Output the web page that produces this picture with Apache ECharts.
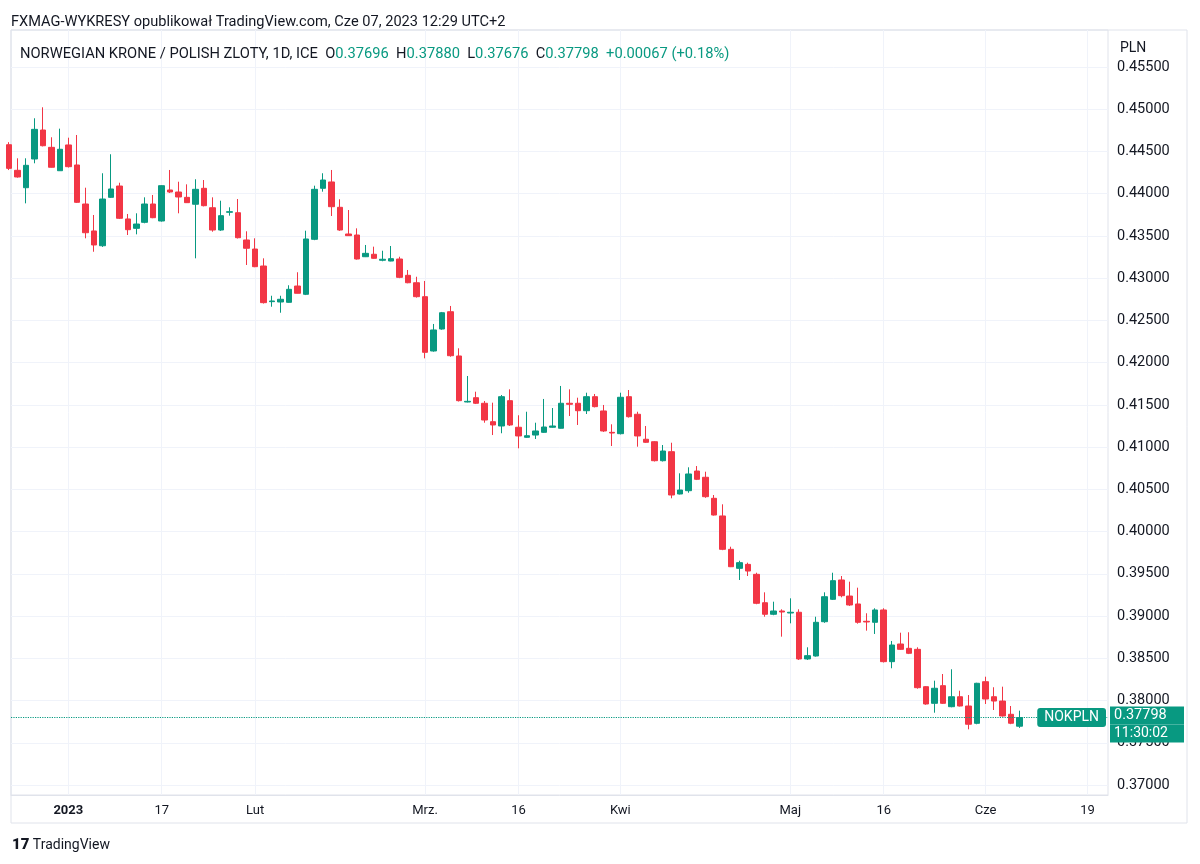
<!DOCTYPE html>
<html><head><meta charset="utf-8">
<script src="https://cdn.jsdelivr.net/npm/echarts@6/dist/echarts.min.js"></script>
<style>html,body{margin:0;padding:0;background:#ffffff}#c{width:1200px;height:864px}</style>
</head><body><div id="c"></div>
<script>
// trading-day index of the first candle (0 = 2 Jan 2023)
const firstIndex = -7;
const opens = [
 0.4458,0.44277,0.44071,0.44411,0.44754,0.44549,0.44272,
 0.44577,0.44340,0.43878,0.43559,0.43384,0.43957,0.44091,0.43701,0.43590,0.43661,
 0.43878,0.43677,0.44044,0.44020,0.43957,0.43875,0.44064,0.43834,0.43570,0.43780,
 0.43775,0.43452,0.43345,0.43144,0.42722,0.42718,0.42714,0.42907,0.42809,0.43460,
 0.44064,0.44139,0.43839,0.43523,0.43511,0.43254,0.43283,0.43212,0.43203,0.43227,
 0.43034,0.42946,0.42781,0.42138,0.42398,0.42603,0.42079,0.41534,0.41585,0.41519,
 0.41301,0.41250,0.41550,0.41235,0.41116,0.41143,0.41175,0.41235,0.41223,0.41519,
 0.41519,0.41431,0.41597,0.41428,0.41175,0.41159,0.41597,0.41389,0.41093,0.41064,
 0.40839,0.40946,0.40445,0.40484,0.40717,0.40643,0.40394,0.40185,0.39790,0.39565,
 0.39612,0.39494,0.39158,0.39021,0.39060,0.39036,0.39045,0.38492,0.38527,0.38933,
 0.39198,0.39427,0.39237,0.39143,0.38938,0.38926,0.39072,0.38460,0.38669,0.38618,
 0.38606,0.38164,0.37967,0.38176,0.37927,0.38045,0.37935,0.37730,0.38223,0.38045,
 0.37994,0.37837,0.37696
];
const closes = [
 0.4430,0.44198,0.44336,0.44762,0.44568,0.44313,0.44526,
 0.44320,0.43898,0.43538,0.43393,0.43937,0.44056,0.43709,0.43574,0.43641,0.43878,
 0.43716,0.44095,0.44020,0.43961,0.43894,0.44052,0.43858,0.43570,0.43740,0.43787,
 0.43479,0.43354,0.43136,0.42710,0.42730,0.42750,0.42868,0.42821,0.43464,0.44052,
 0.44162,0.43846,0.43570,0.43503,0.43227,0.43294,0.43235,0.43224,0.43231,0.43010,
 0.42946,0.42781,0.42122,0.42387,0.42591,0.42082,0.41550,0.41542,0.41519,0.41321,
 0.41262,0.41597,0.41262,0.41132,0.41135,0.41191,0.41238,0.41250,0.41519,0.41507,
 0.41431,0.41597,0.41479,0.41191,0.41167,0.41590,0.41360,0.41132,0.41057,0.40839,
 0.40954,0.40433,0.40492,0.40682,0.40619,0.40413,0.40196,0.39790,0.39584,0.39632,
 0.39533,0.39151,0.39021,0.39060,0.39048,0.39045,0.38492,0.38531,0.38926,0.39229,
 0.39419,0.39241,0.39131,0.38926,0.38930,0.39072,0.38460,0.38657,0.38606,0.38559,
 0.38152,0.37959,0.38145,0.37967,0.38045,0.37935,0.37719,0.38204,0.38018,0.37994,
 0.37817,0.37731,0.37798
];
const lows = [
 0.4428,0.4419,0.43886,0.44360,0.4456,0.4431,0.4427,
 0.4431,0.4389,0.43472,0.43313,0.4337,0.4395,0.4370,0.43511,0.43519,0.4365,
 0.4371,0.4367,0.44008,0.43768,0.4389,0.43235,0.4385,0.43550,0.4356,0.43740,
 0.4347,0.43156,0.4313,0.4270,0.42662,0.42591,0.4271,0.4282,0.4280,0.4345,
 0.44024,0.43736,0.4356,0.4350,0.4322,0.4325,0.4323,0.4320,0.4320,0.4300,
 0.4294,0.4277,0.42051,0.4213,0.4239,0.4207,0.4154,0.4153,0.4151,0.41289,
 0.41143,0.41164,0.4125,0.40986,0.4111,0.41096,0.4117,0.4123,0.4122,0.41368,
 0.41262,0.41392,0.4147,0.4118,0.41013,0.4115,0.4135,0.41005,0.4105,0.4083,
 0.4083,0.40394,0.4044,0.40460,0.4061,0.4040,0.4019,0.3978,0.3958,0.39427,
 0.39474,0.3914,0.38992,0.3901,0.38756,0.38914,0.3848,0.3848,0.3852,0.3892,
 0.3919,0.39222,0.3912,0.3891,0.38827,0.38788,0.3845,0.38382,0.3860,0.3855,
 0.3814,0.3795,0.37856,0.3796,0.3792,0.3793,0.37659,0.37719,0.37959,0.37888,
 0.3781,0.3772,0.37676
];
const highs = [
 0.4461,0.44419,0.44419,0.44893,0.45023,0.44668,0.44770,
 0.44663,0.44695,0.44071,0.43748,0.44242,0.44467,0.44130,0.43760,0.43768,0.43957,
 0.43985,0.4410,0.44281,0.44142,0.44111,0.44171,0.44162,0.43957,0.43917,0.43839,
 0.43937,0.43555,0.43472,0.43235,0.42792,0.42792,0.42916,0.43070,0.43562,0.44095,
 0.44242,0.44281,0.43934,0.43807,0.43590,0.43393,0.43373,0.43325,0.43381,0.43254,
 0.43097,0.43017,0.42967,0.42458,0.4260,0.42671,0.42170,0.41842,0.41656,0.41546,
 0.41526,0.41617,0.41684,0.41377,0.41419,0.41289,0.41570,0.41463,0.41724,0.41684,
 0.41585,0.41644,0.41629,0.41499,0.41270,0.41644,0.41676,0.41419,0.41250,0.4107,
 0.41025,0.41052,0.40690,0.40761,0.40776,0.40709,0.40433,0.40323,0.39821,0.39655,
 0.39632,0.39513,0.39281,0.39170,0.39080,0.39210,0.39080,0.38630,0.38992,0.39281,
 0.39513,0.39474,0.39407,0.39336,0.39033,0.39092,0.39092,0.38705,0.38803,0.38808,
 0.38630,0.3817,0.38235,0.38314,0.38370,0.38116,0.38065,0.3821,0.38282,0.38157,
 0.38164,0.37935,0.37880
];
const tickDays = [0, 11, 22, 42, 53, 65, 85, 96, 108, 120];
const tickLabels = ['2023', '17', 'Lut', 'Mrz.', '16', 'Kwi', 'Maj', '16', 'Cze', '19'];
const priceTicks = [0.370,0.375,0.380,0.385,0.390,0.395,0.400,0.405,0.410,0.415,0.420,0.425,0.430,0.435,0.440,0.445,0.450,0.455];
const lastPrice = 0.37798;
const lastTime = '11:30:02';
const symbolName = 'NOKPLN';
const currency = 'PLN';
const headerTitle = 'FXMAG-WYKRESY opublikował TradingView.com, Cze 07, 2023 12:29 UTC+2';
const instrument = 'NORWEGIAN KRONE / POLISH ZLOTY, 1D, ICE';
const ohlcLabels = ['O', 'H', 'L', 'C'];
const ohlcValues = ['0.37696', '0.37880', '0.37676', '0.37798'];
const changeText = '+0.00067 (+0.18%)';

const UP = '#089981', DOWN = '#F23645', TXT = '#131722', GRID = '#f0f3fa', BORDER = '#e0e3eb';
const FONT = 'Roboto, "Liberation Sans", sans-serif';

const candles = opens.map((o, i) => [firstIndex + i, o, closes[i], lows[i], highs[i]]);
const lastIdx = firstIndex + opens.length - 1;

let legendText = '{n|' + instrument + '}  ';
ohlcLabels.forEach((k, i) => { legendText += '{k|' + k + '}{v|' + ohlcValues[i] + '}  '; });
legendText += '{v|' + changeText + '}';

const chart = echarts.init(document.getElementById('c'), null, { renderer: 'canvas' });
chart.setOption({
  backgroundColor: '#ffffff',
  animation: false,
  textStyle: { fontFamily: FONT },
  title: [
    { text: headerTitle, left: 6, top: 10, padding: 5, textStyle: { fontSize: 14.6, fontWeight: 'normal', color: TXT, fontFamily: FONT } },
    { text: legendText, left: 15, top: 42, padding: 5, textStyle: { fontSize: 14.7, fontWeight: 'normal', color: TXT, fontFamily: FONT,
        rich: { n: { fontSize: 14.7, color: TXT }, k: { fontSize: 14.7, color: TXT }, v: { fontSize: 14.7, color: UP } } } },
    { text: currency, left: 1115, top: 36, padding: 5, textStyle: { fontSize: 14, fontWeight: 'normal', color: TXT, fontFamily: FONT } },
    { text: '{l|17} TradingView', left: 7, top: 833, padding: 5, textStyle: { fontSize: 14, fontWeight: 'normal', color: TXT, fontFamily: FONT,
        rich: { l: { fontSize: 15, fontWeight: 900, color: TXT } } } }
  ],
  grid: [
    { left: 11, right: 92, top: 30, bottom: 69, show: true, borderColor: BORDER, borderWidth: 1, backgroundColor: 'transparent' },
    { left: 11, right: 13, top: 30, bottom: 41, show: true, borderColor: BORDER, borderWidth: 1, backgroundColor: 'transparent' }
  ],
  xAxis: [{
    type: 'value', gridIndex: 0,
    min: (11 - 68.3) / 8.494, max: (1108 - 68.3) / 8.494,
    axisLine: { show: true, lineStyle: { color: BORDER } },
    axisTick: { show: false, customValues: tickDays },
    splitLine: { show: true, lineStyle: { color: GRID, width: 1 } },
    axisLabel: {
      customValues: tickDays, margin: 9, color: TXT, fontSize: 13, fontFamily: FONT,
      formatter: v => { const i = tickDays.indexOf(Math.round(v)); if (i < 0) return ''; return i === 0 ? '{b|' + tickLabels[i] + '}' : tickLabels[i]; },
      rich: { b: { fontWeight: 'bold', fontSize: 13, color: TXT } }
    }
  }],
  yAxis: [{
    type: 'value', gridIndex: 0, position: 'right',
    min: 0.455 - (795 - 67) / 8447, max: 0.455 + (67 - 30) / 8447,
    axisLine: { show: false },
    axisTick: { show: false, customValues: priceTicks },
    splitLine: { show: true, lineStyle: { color: GRID, width: 1 } },
    axisLabel: { customValues: priceTicks, margin: 9, color: TXT, fontSize: 14.5, fontFamily: FONT, formatter: v => v.toFixed(5) }
  }],
  series: [{
    type: 'candlestick',
    xAxisIndex: 0, yAxisIndex: 0,
    data: candles,
    encode: { x: 0, y: [1, 2, 3, 4] },
    barWidth: 6,
    clip: true,
    itemStyle: { color: UP, color0: DOWN, borderColor: UP, borderColor0: DOWN, borderWidth: 1 }
  }, {
    type: 'line',
    xAxisIndex: 0, yAxisIndex: 0,
    color: UP,
    data: [[lastIdx, lastPrice]],
    symbol: 'none', showSymbol: false, silent: true, clip: false,
    lineStyle: { width: 0, opacity: 0, color: UP },
    itemStyle: { color: UP },
    markLine: {
      silent: true, symbol: 'none', animation: false, precision: 5, z: 10,
      lineStyle: { color: UP, type: 'dotted', width: 1, opacity: 1 },
      data: [
        { yAxis: lastPrice, lineStyle: { color: UP, type: 'dotted', width: 1.2, opacity: 1 },
          label: { show: true, position: 'insideEnd', distance: 2, formatter: symbolName,
            color: '#ffffff', backgroundColor: UP, padding: [3, 7, 2, 7], borderRadius: 3, fontSize: 14, fontFamily: FONT } },
        { yAxis: lastPrice, lineStyle: { color: 'rgba(8,153,129,0)', width: 0 },
          label: { show: true, position: 'end', distance: 2,
            formatter: '{s| }\n{p|' + lastPrice.toFixed(5) + '}\n{t|' + lastTime + '}',
            rich: {
              s: { fontSize: 1, lineHeight: 14, height: 14 },
              p: { color: '#ffffff', backgroundColor: UP, fontSize: 14.5, width: 66, height: 18, lineHeight: 18, padding: [0, 4], fontFamily: FONT },
              t: { color: '#ffffff', backgroundColor: UP, fontSize: 14, width: 66, height: 18, lineHeight: 18, padding: [0, 4], fontFamily: FONT }
            } } }
      ]
    }
  }]
});
</script></body></html>
